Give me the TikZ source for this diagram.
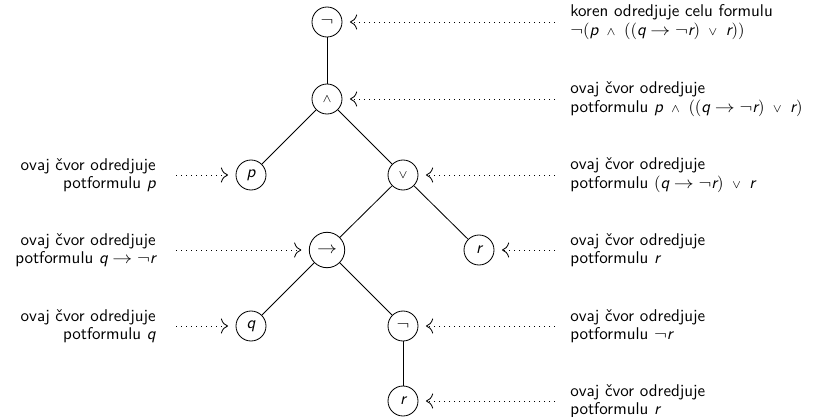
\documentclass[tikz,border=0pt]{standalone}
\usepackage{graphicx}
\usetikzlibrary{arrows.meta}
\renewcommand\familydefault{\sfdefault}
\newcommand\vp[1]{\mbox{\sffamily\itshape #1}}
\newcommand\smand{\mbox{\scriptsize$\wedge$}}
\newcommand\smor{\mbox{\scriptsize$\vee$}}
\newcommand\myand{\mathbin{\;\smand\;}}
\newcommand\myor{\mathbin{\;\smor\;}}
\newcommand\myto{\mathrel{\scalebox{1.2}[1]{$\to$}}}
\newcommand\myneg{\scalebox{1.15}[1]{$\neg$}}
\begin{document}
\begin{tikzpicture}[x=0.6pt,y=-0.6pt,
  treenode/.style={circle,draw,line width=0.5pt,inner sep=3.3pt,minimum size=18pt,font=\fontsize{10.2}{11}\selectfont},
  lefttext/.style={align=left,anchor=west,inner sep=0pt,font=\fontsize{10.2}{11}\selectfont},
  righttext/.style={align=right,anchor=east,inner sep=0pt,font=\fontsize{10.2}{11}\selectfont},
  ptr/.style={line width=0.5pt,dash pattern=on 0.5pt off 2.5pt,-{To[scale=1.6]},shorten >=4.5pt},
  edge/.style={line width=0.5pt}]
\useasboundingbox (0,0) rectangle (818,416);
% tree
\node[treenode] (n1) at (327,22) {$\myneg$};
\node[treenode] (n2) at (327,99) {$\smand$};
\node[treenode] (n3) at (251,175) {\vp{p}};
\node[treenode] (n4) at (403,175) {$\smor$};
\node[treenode] (n5) at (327,250) {$\myto$};
\node[treenode] (n6) at (479,250) {\vp{r}};
\node[treenode] (n7) at (251,326) {\vp{q}};
\node[treenode] (n8) at (403,326) {$\myneg$};
\node[treenode] (n9) at (403,401) {\vp{r}};
\draw[edge] (n1) -- (n2);
\draw[edge] (n2) -- (n3);
\draw[edge] (n2) -- (n4);
\draw[edge] (n4) -- (n5);
\draw[edge] (n4) -- (n6);
\draw[edge] (n5) -- (n7);
\draw[edge] (n5) -- (n8);
\draw[edge] (n8) -- (n9);
% right texts
\node[lefttext] (t1) at (570,22) {koren odredjuje celu formulu\\$\myneg(\vp{p}\myand((\vp{q}\myto\myneg\vp{r})\myor\vp{r}))$};
\node[lefttext] (t2) at (570,99) {ovaj čvor odredjuje\\potformulu $\vp{p}\myand((\vp{q}\myto\myneg\vp{r})\myor\vp{r})$};
\node[lefttext] (t4) at (570,175) {ovaj čvor odredjuje\\potformulu $(\vp{q}\myto\myneg\vp{r})\myor\vp{r}$};
\node[lefttext] (t6) at (570,250) {ovaj čvor odredjuje\\potformulu $\vp{r}$};
\node[lefttext] (t8) at (570,326) {ovaj čvor odredjuje\\potformulu $\myneg\vp{r}$};
\node[lefttext] (t9) at (570,401) {ovaj čvor odredjuje\\potformulu $\vp{r}$};
% left texts
\node[righttext] (t3) at (156,175) {ovaj čvor odredjuje\\potformulu $\vp{p}$};
\node[righttext] (t5) at (156,250) {ovaj čvor odredjuje\\potformulu $\vp{q}\myto\myneg\vp{r}$};
\node[righttext] (t7) at (156,326) {ovaj čvor odredjuje\\potformulu $\vp{q}$};
% pointer starts
\coordinate (s1) at (555,22);
\coordinate (s2) at (555,99);
\coordinate (s4) at (555,175);
\coordinate (s6) at (555,250);
\coordinate (s8) at (555,326);
\coordinate (s9) at (555,401);
\coordinate (s3) at (176,175);
\coordinate (s5) at (176,250);
\coordinate (s7) at (176,326);
\draw[ptr] (s1) -- (n1);
\draw[ptr] (s2) -- (n2);
\draw[ptr] (s4) -- (n4);
\draw[ptr] (s6) -- (n6);
\draw[ptr] (s8) -- (n8);
\draw[ptr] (s9) -- (n9);
\draw[ptr] (s3) -- (n3);
\draw[ptr] (s5) -- (n5);
\draw[ptr] (s7) -- (n7);
\end{tikzpicture}
\end{document}
